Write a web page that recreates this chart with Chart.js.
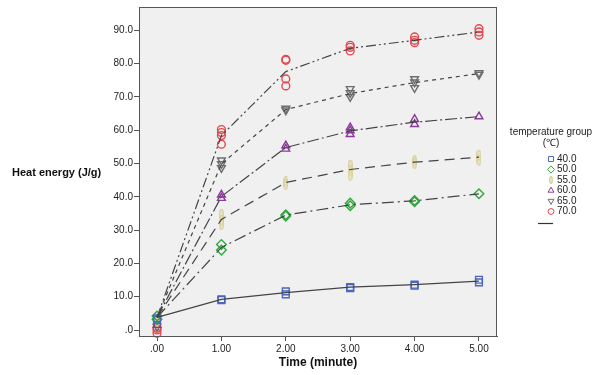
<!DOCTYPE html>
<html><head><meta charset="utf-8">
<script src="https://cdn.jsdelivr.net/npm/chart.js@4/dist/chart.umd.min.js"></script>
<style>html,body{margin:0;padding:0;background:#fff}#wrap{width:600px;height:375px;position:relative}</style>
</head><body><div id="wrap"><canvas id="c" width="600" height="375"></canvas></div>
<script>
// ---------- data ----------
const groups = ['40.0', '50.0', '55.0', '60.0', '65.0', '70.0'];
const timeTicks = [0, 1, 2, 3, 4, 5];
const heatTicks = [0, 10, 20, 30, 40, 50, 60, 70, 80, 90];
const lineTimes = [0, 1, 2, 3, 4, 5];

// mean (fit) lines
const mean40 = [3.8, 9.2, 11.2, 12.9, 13.6, 14.7];
const mean50 = [3.8, 24.8, 34.5, 37.6, 38.8, 40.9];
const mean55 = [3.8, 33.2, 44.3, 48.2, 50.4, 51.9];
const mean60 = [3.8, 40.1, 54.8, 59.8, 62.4, 64.1];
const mean65 = [3.8, 49.9, 66.2, 71.0, 74.3, 77.0];
const mean70 = [3.8, 58.4, 77.6, 84.6, 87.0, 89.5];

// replicate observations
const obs40x = [0, 0, 1, 1, 2, 2, 3, 3, 4, 4, 5, 5];
const obs40y = [3.5, 3.0, 9.2, 9.0, 11.6, 10.7, 12.9, 12.6, 13.6, 13.3, 15.1, 14.3];
const obs50x = [0, 0, 1, 1, 2, 2, 3, 3, 4, 4, 5];
const obs50y = [3.2, 4.2, 25.7, 24.0, 34.6, 34.2, 38.1, 37.3, 38.9, 38.5, 40.9];
const obs55x = [0, 1, 1, 1, 2, 2, 3, 3, 3, 4, 4, 5, 5];
const obs55y = [2.5, 34.7, 33.0, 31.7, 44.5, 43.8, 49.5, 48.0, 46.5, 50.8, 50.0, 52.5, 51.0];
const obs60x = [0, 1, 1, 2, 2, 3, 3, 3, 4, 4, 5];
const obs60y = [1.5, 40.6, 39.6, 55.4, 54.4, 60.8, 59.9, 58.8, 63.3, 61.8, 64.1];
const obs65x = [0, 1, 1, 1, 2, 2, 3, 3, 3, 4, 4, 4, 5, 5];
const obs65y = [1.0, 51.0, 49.9, 48.7, 66.5, 66.0, 72.4, 71.2, 70.0, 75.4, 74.4, 72.7, 77.2, 76.7];
const obs70x = [0, 0, 0, 1, 1, 1, 1, 2, 2, 2, 2, 3, 3, 3, 4, 4, 4, 5, 5, 5];
const obs70y = [0.5, -1.0, 0.0, 60.2, 59.3, 58.4, 55.8, 81.3, 81.0, 75.4, 73.3, 85.5, 84.9, 83.8, 88.0, 87.0, 86.3, 90.5, 89.5, 88.5];

// ---------- styling ----------
const colors = ['#4a66c0', '#2ea83c', '#d6cf9a', '#8a3a98', '#6e6e6e', '#e4474d'];
const dashes = [[], [12, 4, 2, 4], [10, 6], [12, 3, 2, 3], [4, 4], [10, 3, 2, 3, 2, 3]];

// thin ellipse marker for 55.0
function ellipseMarker(w, h) {
  const cv = document.createElement('canvas');
  cv.width = w; cv.height = h;
  const cx = cv.getContext('2d');
  cx.beginPath();
  cx.ellipse(w / 2, h / 2, w / 2 - 0.7, h / 2 - 0.7, 0, 0, Math.PI * 2);
  cx.fillStyle = 'rgba(230,225,180,0.6)';
  cx.fill();
  cx.strokeStyle = colors[2];
  cx.lineWidth = 1.2;
  cx.stroke();
  return cv;
}
const m55 = ellipseMarker(5, 11);
const m55s = ellipseMarker(4, 8);

const styles = [
  {pointStyle: 'rect', radius: 4.8, rotation: 0},
  {pointStyle: 'rectRot', radius: 4.8, rotation: 0},
  {pointStyle: m55, radius: 5, rotation: 0},
  {pointStyle: 'triangle', radius: 4.5, rotation: 0},
  {pointStyle: 'triangle', radius: 4.5, rotation: 180},
  {pointStyle: 'circle', radius: 3.9, rotation: 0}
];

const means = [mean40, mean50, mean55, mean60, mean65, mean70];
const obsX = [obs40x, obs50x, obs55x, obs60x, obs65x, obs70x];
const obsY = [obs40y, obs50y, obs55y, obs60y, obs65y, obs70y];

const datasets = [];
groups.forEach((g, i) => {
  datasets.push({
    type: 'scatter',
    label: g,
    data: obsX[i].map((x, k) => ({x: x, y: obsY[i][k]})),
    pointStyle: styles[i].pointStyle,
    pointRadius: styles[i].radius,
    pointRotation: styles[i].rotation,
    borderColor: colors[i],
    backgroundColor: 'rgba(255,255,255,0)',
    borderWidth: 1.4,
    showLine: false,
    clip: false,
    order: 1
  });
});
groups.forEach((g, i) => {
  datasets.push({
    type: 'line',
    label: g + ' fit',
    data: lineTimes.map((x, k) => ({x: x, y: means[i][k]})),
    borderColor: '#444',
    borderWidth: 1.2,
    borderDash: dashes[i],
    pointRadius: 0,
    fill: false,
    tension: 0,
    order: 0
  });
});

const FONT = '"Liberation Sans", Arial, sans-serif';

const framePlugin = {
  id: 'frame',
  beforeDraw(chart) {
    const a = chart.chartArea, ctx = chart.ctx;
    ctx.save();
    ctx.fillStyle = '#f0f0f0';
    ctx.fillRect(a.left, a.top, a.right - a.left, a.bottom - a.top);
    ctx.restore();
  },
  afterDraw(chart) {
    const a = chart.chartArea, ctx = chart.ctx;
    ctx.save();
    ctx.strokeStyle = '#555';
    ctx.lineWidth = 1;
    ctx.strokeRect(a.left + 0.5, a.top + 0.5, a.right - a.left - 1, a.bottom - a.top);
    // y axis title (horizontal)
    ctx.fillStyle = '#111';
    ctx.font = 'bold 11px ' + FONT;
    ctx.textAlign = 'left';
    ctx.textBaseline = 'middle';
    ctx.fillText('Heat energy (J/g)', 12, 173);
    // legend
    ctx.font = '10px ' + FONT;
    ctx.fillStyle = '#222';
    ctx.textAlign = 'center';
    ctx.fillText('temperature group', 551, 132);
    ctx.fillText('(\u2103)', 551, 143);
    const ys = [159, 169.5, 180, 190.5, 201, 211.5];
    groups.forEach((g, i) => {
      ctx.save();
      ctx.strokeStyle = colors[i];
      ctx.fillStyle = 'rgba(255,255,255,0)';
      ctx.lineWidth = 1;
      const st = styles[i].pointStyle === m55 ? m55s : styles[i].pointStyle;
      Chart.helpers.drawPoint(ctx, {pointStyle: st, radius: styles[i].radius * 0.75, rotation: styles[i].rotation, borderWidth: 1}, 551, ys[i]);
      ctx.restore();
      ctx.fillStyle = '#222';
      ctx.textAlign = 'left';
      ctx.fillText(g, 557, ys[i]);
    });
    ctx.strokeStyle = '#333';
    ctx.lineWidth = 1.2;
    ctx.beginPath();
    ctx.moveTo(538, 223.5);
    ctx.lineTo(553, 223.5);
    ctx.stroke();
    ctx.restore();
  }
};

new Chart(document.getElementById('c'), {
  type: 'scatter',
  data: {datasets},
  options: {
    responsive: false,
    animation: false,
    devicePixelRatio: 1,
    layout: {padding: {top: 3, right: 103, left: 0, bottom: 0}},
    plugins: {legend: {display: false}, tooltip: {enabled: false}},
    scales: {
      x: {
        type: 'linear',
        min: -0.28, max: 5.28,
        afterBuildTicks: s => { s.ticks = timeTicks.map(v => ({value: v})); },
        afterFit: s => { s.height = 39; },
        grid: {display: true, drawOnChartArea: false, drawTicks: true, tickLength: 5, color: '#555'},
        border: {display: true, color: '#555', width: 1},
        ticks: {color: '#222', font: {size: 10, family: FONT}, padding: 2, maxRotation: 0,
          callback: v => v === 0 ? '.00' : v.toFixed(2)},
        title: {display: true, text: 'Time (minute)', color: '#111', font: {size: 12, weight: 'bold', family: FONT}, padding: {top: 0, bottom: 5}}
      },
      y: {
        type: 'linear',
        min: -1.8, max: 97,
        afterBuildTicks: s => { s.ticks = heatTicks.map(v => ({value: v})); },
        afterFit: s => { s.width = 139; },
        grid: {display: true, drawOnChartArea: false, drawTicks: true, tickLength: 5, color: '#555'},
        border: {display: true, color: '#555', width: 1},
        ticks: {color: '#222', font: {size: 10, family: FONT}, padding: 1,
          callback: v => v === 0 ? '.0' : v.toFixed(1)}
      }
    }
  },
  plugins: [framePlugin]
});
</script></body></html>
